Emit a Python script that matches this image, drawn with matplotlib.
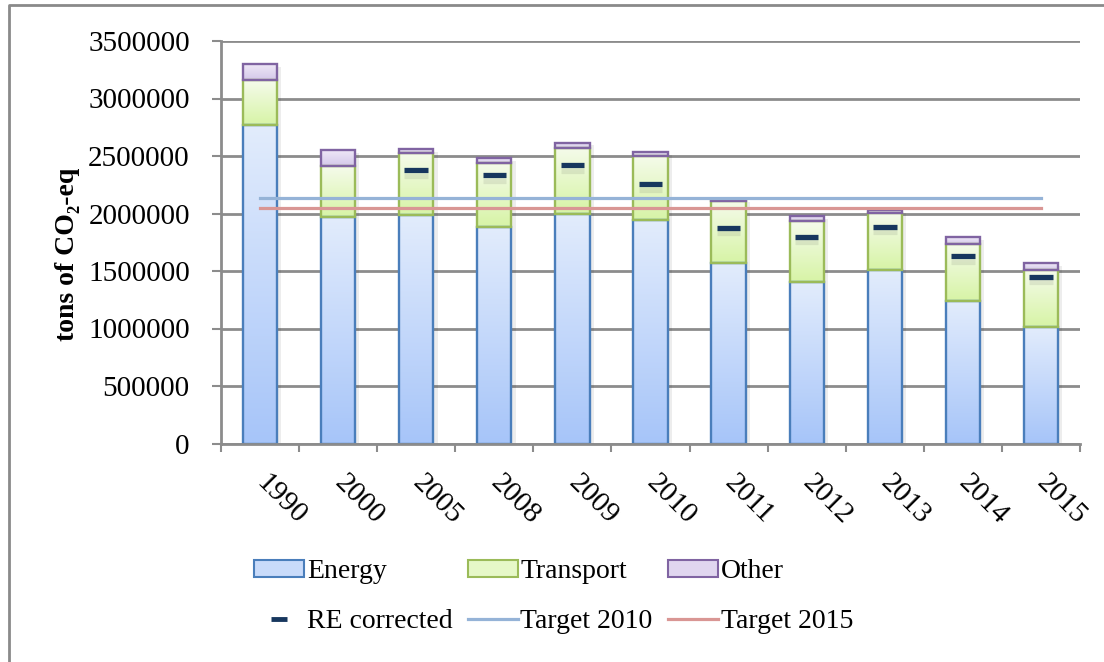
import matplotlib
matplotlib.use("Agg")
import matplotlib.patheffects as pe
import matplotlib.pyplot as plt
import matplotlib.transforms as mtransforms
import numpy as np
from matplotlib.colors import to_rgb
from matplotlib.lines import Line2D
from matplotlib.patches import Patch
from matplotlib.ticker import StrMethodFormatter

YEARS = ["1990", "2000", "2005", "2008", "2009", "2010",
         "2011", "2012", "2013", "2014", "2015"]
ENERGY = [2770000, 1970000, 1985000, 1880000, 2000000, 1945000,
          1570000, 1405000, 1510000, 1235000, 1010000]
TRANSPORT = [390000, 440000, 540000, 560000, 570000, 557000,
             542000, 526000, 494000, 498000, 500000]
OTHER = [140000, 140000, 35000, 40000, 46000, 35000,
         15000, 49000, 25000, 59000, 58000]
RE_CORRECTED = [np.nan, np.nan, 2378000, 2332000, 2420000, 2253000,
                1876000, 1797000, 1884000, 1629000, 1452000]
TARGET_2010 = 2132000
TARGET_2015 = 2045000

GRID = "#8c8c8c"
NAVY = "#17375e"
SEGMENTS = [
    # label, edge, gradient top, gradient bottom, legend fill
    ("Energy", "#4a7ebb", "#e2ecfc", "#a7c5f9", "#c9dbfa"),
    ("Transport", "#9bbb59", "#f5fbeb", "#d7f4a6", "#e6f8c8"),
    ("Other", "#8064a2", "#f0eaf7", "#d4c7ea", "#e0d6ef"),
]

plt.rcParams.update({
    "font.family": ["Liberation Serif", "DejaVu Serif"],
    "font.size": 21,
    "text.color": "black",
})


def gradient_fill(ax, bars, top, bottom):
    ramp = np.linspace(0, 1, 64)[:, None, None]
    img = (1 - ramp) * np.array(to_rgb(top)) + ramp * np.array(to_rgb(bottom))
    for b in bars:
        x0, y0 = b.get_x(), b.get_y()
        ax.imshow(img, extent=(x0, x0 + b.get_width(), y0, y0 + b.get_height()),
                  aspect="auto", origin="upper", interpolation="bilinear",
                  zorder=2.2)


fig = plt.figure(figsize=(11.04, 6.62), dpi=100)
ax = fig.add_axes([221 / 1104, (662 - 443.5) / 662,
                   (1080 - 221) / 1104, (443.5 - 41) / 662])

x = np.arange(len(YEARS))
width = 0.44
bottom = np.zeros(len(YEARS))
shadow = [pe.SimplePatchShadow(offset=(3, -2), shadow_rgbFace="k", alpha=0.07),
          pe.Normal()]
for (label, edge, top, bot, _), values in zip(SEGMENTS, [ENERGY, TRANSPORT, OTHER]):
    base = ax.bar(x, values, width, bottom=bottom, color="white", lw=0,
                  zorder=2, path_effects=shadow)
    gradient_fill(ax, base, top, bot)
    ax.bar(x, values, width, bottom=bottom, fill=False, edgecolor=edge,
           lw=1.7, zorder=2.4)
    bottom = bottom + np.array(values)

ax.plot(x, [TARGET_2010] * len(YEARS), color="#95b3d7", lw=2.3, zorder=3)
ax.plot(x, [TARGET_2015] * len(YEARS), color="#d99694", lw=2.3, zorder=3)
ax.plot(x, RE_CORRECTED, ls="none", marker="_", ms=17, mew=3.8, color=NAVY,
        zorder=4,
        path_effects=[pe.SimpleLineShadow(offset=(0, -4), alpha=0.08), pe.Normal()])

ax.set_xlim(-0.5, len(YEARS) - 0.5)
ax.set_ylim(0, 3500000)
ax.set_yticks(np.arange(0, 3500001, 500000))
ax.yaxis.set_major_formatter(StrMethodFormatter("{x:.0f}"))
ax.set_axisbelow(True)
ax.yaxis.grid(True, color=GRID, lw=2)
for s in ("top", "right"):
    ax.spines[s].set_visible(False)
for s in ("left", "bottom"):
    ax.spines[s].set_color(GRID)
    ax.spines[s].set_linewidth(2)

ax.set_xticks(x)
ax.set_xticklabels(YEARS, rotation=-45, ha="left", va="top")
ax.set_xticks(np.arange(-0.5, len(YEARS)), minor=True)
ax.tick_params(axis="x", which="major", length=0, pad=19)
ax.tick_params(axis="x", which="minor", length=6, width=1.5, color=GRID)
ax.tick_params(axis="y", length=6.5, width=1.5, color=GRID, pad=16)
# nudge the slanted year labels a little to the left (after tick_params)
shift = mtransforms.ScaledTranslation(-9 / 100, 0, fig.dpi_scale_trans)
for lbl in ax.get_xticklabels():
    lbl.set_transform(lbl.get_transform() + shift)

ax.set_ylabel("tons of CO\u2082-eq", fontweight="bold", fontsize=20)
ax.yaxis.set_label_coords(-0.164, 0.47)

handles = [
    Patch(facecolor=SEGMENTS[0][4], edgecolor=SEGMENTS[0][1], lw=1.5, label="Energy"),
    Line2D([], [], ls="none", marker="_", ms=11, mew=3.5, color=NAVY,
           label="RE corrected"),
    Patch(facecolor=SEGMENTS[1][4], edgecolor=SEGMENTS[1][1], lw=1.5, label="Transport"),
    Line2D([], [], color="#95b3d7", lw=2.3, label="Target 2010"),
    Patch(facecolor=SEGMENTS[2][4], edgecolor=SEGMENTS[2][1], lw=1.5, label="Other"),
    Line2D([], [], color="#d99694", lw=2.3, label="Target 2015"),
]
fig.legend(handles=handles, ncol=3, loc="upper left",
           bbox_to_anchor=(254 / 1104, 1 - 559 / 662), frameon=False,
           borderpad=0, borderaxespad=0, handlelength=1.8, handleheight=0.55,
           handletextpad=0.1, columnspacing=0.55, labelspacing=0.9, fontsize=20)

# chart frame (top and left edges visible in the crop)
fig.add_artist(Line2D([9 / 1104, 9 / 1104, 1], [0, 1 - 5 / 662, 1 - 5 / 662],
                      transform=fig.transFigure, color="#8a8a8a", lw=2))

fig.savefig("out.png", dpi=100)
